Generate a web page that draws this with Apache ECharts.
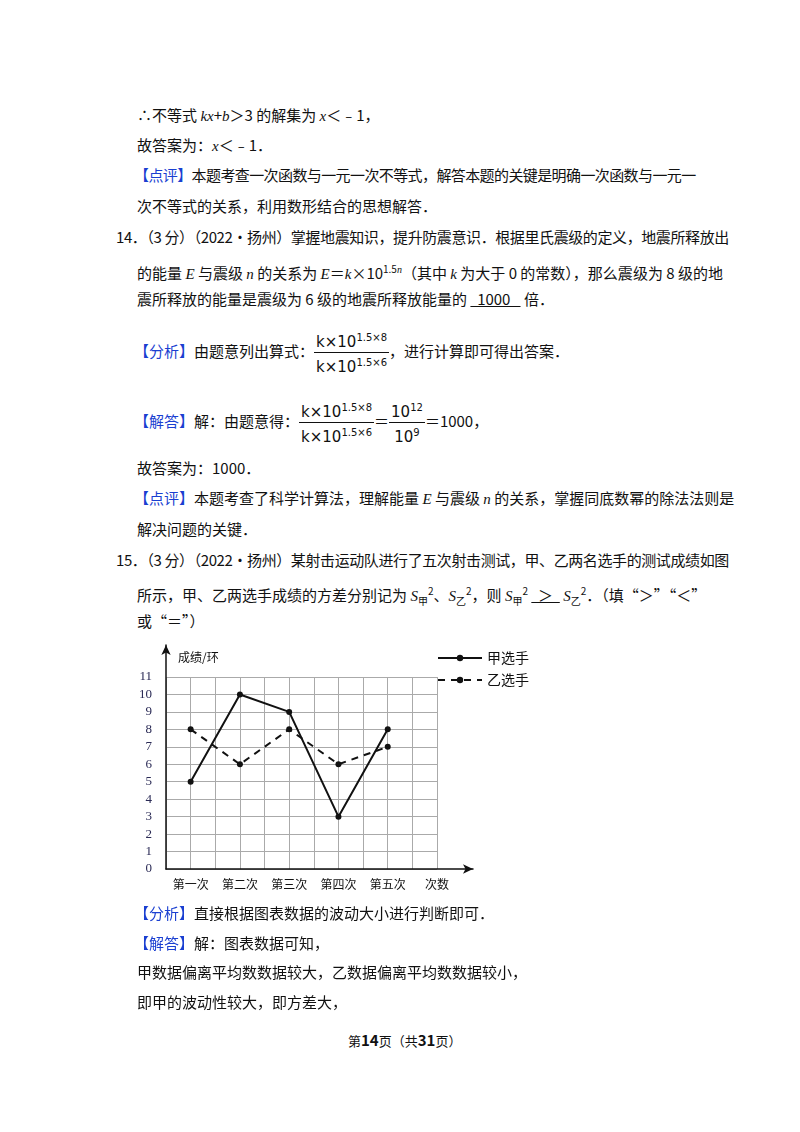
<!DOCTYPE html>
<html><head><meta charset="utf-8">
<script src="https://cdn.jsdelivr.net/npm/echarts@6/dist/echarts.min.js"></script>
<style>
body{margin:0;width:800px;height:1132px;background:#fff;position:relative;font-family:"Noto Sans CJK SC","Liberation Serif",serif;font-size:15px;color:#111;}
.l{position:absolute;white-space:nowrap;line-height:20px;}
.b{color:#1a3fd1;}
i{font-family:"Liberation Serif",serif;}
.fr{display:inline-block;vertical-align:middle;text-align:center;font-family:"DejaVu Sans",sans-serif;font-size:15px;}
.fr span{display:block;padding:0 2px;line-height:20px;}
.fr .n{border-bottom:1px solid #111;}
sup{font-size:10px;}
#c{position:absolute;left:120px;top:640px;width:420px;height:265px;}
</style></head><body>
<div class="l" style="left:137px;top:105px">∴不等式 <i>kx</i>+<i>b</i>＞3 的解集为 <i>x</i>＜﹣1，</div>
<div class="l" style="left:137px;top:135px">故答案为：<i>x</i>＜﹣1．</div>
<div class="l" style="left:134px;top:165px;letter-spacing:-0.6px"><span class="b">【点评】</span>本题考查一次函数与一元一次不等式，解答本题的关键是明确一次函数与一元一</div>
<div class="l" style="left:137px;top:196px">次不等式的关系，利用数形结合的思想解答．</div>
<div class="l" style="left:116px;top:227px;letter-spacing:-0.4px">14．（3 分）（2022•扬州）掌握地震知识，提升防震意识．根据里氏震级的定义，地震所释放出</div>
<div class="l" style="left:137px;top:259px">的能量 <i>E</i> 与震级 <i>n</i> 的关系为 <i>E</i>＝<i>k</i>×10<sup>1.5<i>n</i></sup>（其中 <i>k</i> 为大于 0 的常数），那么震级为 8 级的地</div>
<div class="l" style="left:137px;top:289px">震所释放的能量是震级为 6 级的地震所释放能量的 <u>&nbsp;&nbsp;1000&nbsp;&nbsp;&nbsp;</u> 倍．</div>
<div class="l" style="left:134px;top:328px;line-height:44px"><span class="b">【分析】</span>由题意列出算式：<span class="fr"><span class="n">k×10<sup>1.5×8</sup></span><span>k×10<sup>1.5×6</sup></span></span>，进行计算即可得出答案．</div>
<div class="l" style="left:134px;top:398px;line-height:44px"><span class="b">【解答】</span>解：由题意得：<span class="fr"><span class="n">k×10<sup>1.5×8</sup></span><span>k×10<sup>1.5×6</sup></span></span>＝<span class="fr"><span class="n">10<sup>12</sup></span><span>10<sup>9</sup></span></span>＝1000，</div>
<div class="l" style="left:137px;top:458px">故答案为：1000．</div>
<div class="l" style="left:134px;top:488px"><span class="b">【点评】</span>本题考查了科学计算法，理解能量 <i>E</i> 与震级 <i>n</i> 的关系，掌握同底数幂的除法法则是</div>
<div class="l" style="left:137px;top:519px">解决问题的关键．</div>
<div class="l" style="left:116px;top:550px;letter-spacing:-0.4px">15．（3 分）（2022•扬州）某射击运动队进行了五次射击测试，甲、乙两名选手的测试成绩如图</div>
<div class="l" style="left:137px;top:581px">所示，甲、乙两选手成绩的方差分别记为 <i>S</i><sub style="font-size:10px">甲</sub><sup>2</sup>、<i>S</i><sub style="font-size:10px">乙</sub><sup>2</sup>，则 <i>S</i><sub style="font-size:10px">甲</sub><sup>2</sup> <u>&nbsp;&nbsp;＞&nbsp;&nbsp;</u> <i>S</i><sub style="font-size:10px">乙</sub><sup>2</sup>．（填“＞”“＜”</div>
<div class="l" style="left:137px;top:611px">或“＝”）</div>
<div id="c"></div>
<div class="l" style="left:134px;top:903px"><span class="b">【分析】</span>直接根据图表数据的波动大小进行判断即可．</div>
<div class="l" style="left:134px;top:933px"><span class="b">【解答】</span>解：图表数据可知，</div>
<div class="l" style="left:137px;top:962px">甲数据偏离平均数数据较大，乙数据偏离平均数数据较小，</div>
<div class="l" style="left:137px;top:992px">即甲的波动性较大，即方差大，</div>
<div class="l" style="left:348px;top:1030px;font-size:13px">第<b style="font-size:15px">14</b>页（共<b style="font-size:15px">31</b>页）</div>
<script>
const categories=['第一次','第二次','第三次','第四次','第五次'];
const xPos=[1,3,5,7,9];
const jia=[5,10,9,3,8];
const yi=[8,6,8,6,7];
const ch=echarts.init(document.getElementById('c'));
const lab={};xPos.forEach((p,i)=>lab[p]=categories[i]);lab[11]='次数';
const arrowLine={lineStyle:{color:'#111',width:1.5},symbol:['none','arrow'],symbolSize:[7,10]};
ch.setOption({
 animation:false,
 grid:[{left:46,top:37,width:271,height:192},{left:46,top:5,width:307,height:224}],
 legend:{right:6,top:6,orient:'vertical',itemGap:8,itemWidth:44,itemHeight:8,
   textStyle:{fontSize:14,color:'#111',fontFamily:'Noto Sans CJK SC'},
   data:[{name:'甲选手'},{name:'乙选手'}]},
 xAxis:[{type:'value',min:0,max:11,interval:1,gridIndex:0,
   axisLine:{show:false},axisTick:{show:false},
   splitLine:{lineStyle:{color:'#aaa'}},
   axisLabel:{formatter:v=>lab[v]||'',color:'#111',fontSize:12,margin:9,fontFamily:'Noto Sans CJK SC'}},
  {type:'value',min:0,max:1,gridIndex:1,axisLine:arrowLine,axisTick:{show:false},splitLine:{show:false},axisLabel:{show:false}}],
 yAxis:[{type:'value',min:0,max:11,interval:1,gridIndex:0,
   axisLine:{show:false},axisTick:{show:false},
   splitLine:{lineStyle:{color:'#aaa'}},
   axisLabel:{color:'#2a2a55',fontSize:13,margin:14,fontFamily:'Liberation Serif'}},
  {type:'value',min:0,max:1,gridIndex:1,name:'成绩/环',nameLocation:'end',nameGap:-18,
   nameTextStyle:{align:'left',color:'#111',fontSize:12,padding:[0,0,0,12],fontFamily:'Noto Sans CJK SC'},
   axisLine:arrowLine,axisTick:{show:false},splitLine:{show:false},axisLabel:{show:false}}],
 series:[
  {name:'甲选手',type:'line',data:xPos.map((x,i)=>[x,jia[i]]),symbol:'circle',symbolSize:6,
   lineStyle:{color:'#111',width:2},itemStyle:{color:'#111'}},
  {name:'乙选手',type:'line',data:xPos.map((x,i)=>[x,yi[i]]),symbol:'circle',symbolSize:6,
   lineStyle:{color:'#111',width:2,type:[7,6]},itemStyle:{color:'#111'}}
 ]
});
</script>
</body></html>
